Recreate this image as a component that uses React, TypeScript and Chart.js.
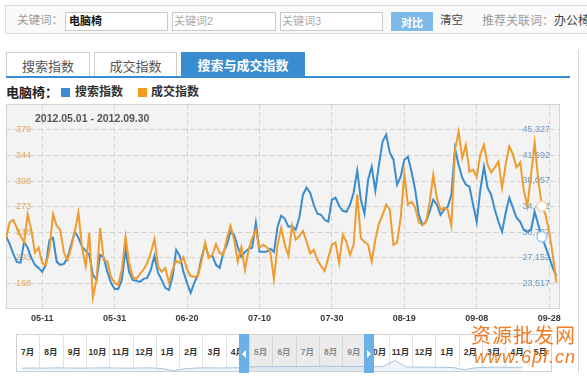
import React, { useEffect, useRef } from 'react';
import { Chart, registerables } from 'chart.js';

Chart.register(...registerables);

// ---------------- data ----------------
const dateRange = '2012.05.01 - 2012.09.30';
const xTickDays = [10, 30, 50, 70, 90, 110, 130, 150];
const xTickLabels = ['05-11', '05-31', '06-20', '07-10', '07-30', '08-19', '09-08', '09-28'];
const tradeTicks = [168, 203, 238, 273, 308, 344, 379];
const searchTicks = [23517, 27152, 30787, 34422, 38057, 41692, 45327];

// 成交指数 (left axis), daily 2012-05-01 .. 2012-09-30
const tradeIndex = [
  230, 252, 255, 244, 233, 225, 263, 241, 210, 217,
  196, 193, 214, 263, 247, 241, 210, 200, 217, 239,
  265, 217, 192, 237, 149, 173, 244, 200, 198, 177,
  169, 166, 187, 232, 196, 177, 174, 181, 187, 196,
  210, 229, 191, 184, 189, 169, 187, 199, 196, 204,
  187, 178, 177, 178, 198, 224, 203, 207, 222, 210,
  207, 230, 247, 228, 198, 218, 187, 214, 230, 241,
  217, 221, 218, 211, 174, 221, 244, 221, 206, 247,
  228, 233, 240, 226, 209, 214, 200, 192, 185, 203,
  221, 224, 196, 235, 225, 207, 221, 290, 230, 225,
  221, 198, 228, 250, 262, 276, 269, 221, 224, 258,
  318, 276, 280, 272, 252, 248, 252, 279, 317, 285,
  269, 272, 269, 247, 351, 376, 340, 358, 321, 324,
  314, 345, 358, 331, 320, 327, 335, 299, 331, 356,
  345, 327, 334, 296, 274, 317, 361, 310, 274, 262,
  239, 207, 169,
];

// 搜索指数 (right axis)
const searchIndex = [
  30264, 29128, 27707, 26570, 26428, 29412, 28559, 27138, 26143, 25717,
  25149, 26143, 29696, 29980, 26570, 26143, 26286, 27138, 28985, 30833,
  29980, 28701, 28133, 27564, 24722, 24012, 27564, 27138, 25149, 23586,
  22733, 22733, 24012, 28275, 25149, 24012, 23870, 23728, 24154, 24296,
  25433, 27422, 25007, 24012, 22875, 22591, 24438, 28275, 27422, 25149,
  23586, 22165, 23586, 24722, 27138, 28985, 27280, 27422, 26143, 25717,
  27849, 28985, 30833, 30406, 28701, 27280, 27991, 28417, 28559, 32112,
  27991, 27991, 27991, 28417, 27991, 31543, 33106, 32680, 31543, 31685,
  31117, 32822, 36090, 37085, 36375, 34669, 33391, 33248, 32538, 32254,
  35380, 35664, 34527, 33817, 33675, 34669, 36375, 39501, 35380, 33391,
  38222, 40069, 36659, 40353, 43622, 44616, 42059, 41064, 37511, 38648,
  41064, 41490, 39359, 36801, 33248, 31827, 32254, 33675, 35380, 34669,
  33248, 33959, 34385, 36090, 42627, 40353, 38506, 37511, 37227, 34669,
  32254, 36801, 40069, 37085, 36090, 33959, 32254, 30833, 33533, 35664,
  34243, 32822, 32254, 31117, 30833, 31117, 33675, 31827, 30122, 28701,
  27280, 25717, 24580,
];
const hoverDay = 148;

const navMonths = ['7月', '8月', '9月', '10月', '11月', '12月', '1月', '2月', '3月', '4月', '5月', '6月',
  '7月', '8月', '9月', '10月', '11月', '12月', '1月', '2月', '3月', '4月', '5月'];
const navSelStart = 10;
const navSelEnd = 15;
// overview sparkline, half-month steps from 2011-07
const navSpark = [
  24, 25, 24, 26, 25, 24, 25, 26, 25, 24,
  25, 26, 22, 8, 20, 25, 26, 25, 26, 27,
  33, 34, 33, 35, 34, 35, 36, 35, 34, 35,
  33, 34, 72, 32, 30, 30, 29, 28, 14, 27,
  29, 30, 29, 30,
];

// ---------------- styles ----------------
const BLUE = '#3a8ccc';
const ORANGE = '#ef9b2d';
const LAT = "'Liberation Sans', Arial, sans-serif";
const MIX = "'Liberation Sans', 'Noto Sans CJK SC', sans-serif";

type TP = { x: number; cy: number; size: number; color: string; bold?: boolean; family?: string; italic?: boolean; spacing?: number; children: React.ReactNode };
const T = ({ x, cy, size, color, bold, family, italic, spacing, children }: TP) => (
  <div style={{ position: 'absolute', left: x, top: cy - 12, height: 24, display: 'flex', alignItems: 'center', fontSize: size, color, fontWeight: bold ? 700 : 400, fontFamily: family || MIX, fontStyle: italic ? 'italic' : 'normal', letterSpacing: spacing || 0, whiteSpace: 'nowrap', lineHeight: 1 }}>{children}</div>
);

const Box = (p: { x: number; y: number; w: number; h: number; style?: React.CSSProperties; children?: React.ReactNode }) => (
  <div style={{ position: 'absolute', left: p.x, top: p.y, width: p.w, height: p.h, boxSizing: 'border-box', ...p.style }}>{p.children}</div>
);

const plotBg = {
  id: 'plotBg',
  beforeDraw(chart: any) {
    const { ctx, chartArea: a } = chart;
    ctx.save();
    ctx.fillStyle = '#f3f3f3';
    ctx.fillRect(a.left, a.top, a.right - a.left, a.bottom - a.top);
    ctx.strokeStyle = '#d4d4d4';
    ctx.lineWidth = 1;
    ctx.strokeRect(a.left + 0.5, a.top + 0.5, a.right - a.left - 1, a.bottom - a.top - 1);
    ctx.restore();
  },
};

export default function App() {
  const mainRef = useRef<HTMLCanvasElement>(null);
  const sparkRef = useRef<HTMLCanvasElement>(null);

  useEffect(() => {
    const tStep = (tradeTicks[tradeTicks.length - 1] - tradeTicks[0]) / (tradeTicks.length - 1);
    const sStep = (searchTicks[searchTicks.length - 1] - searchTicks[0]) / (searchTicks.length - 1);
    const zeroPad = (s: any) => { s.paddingTop = 0; s.paddingBottom = 0; s.paddingLeft = 0; s.paddingRight = 0; };
    const grid = { color: '#d3d3d3', lineWidth: 1, drawTicks: false };
    const main = new Chart(mainRef.current!, {
      type: 'line',
      data: {
        labels: tradeIndex.map((_, i) => i),
        datasets: [
          {
            label: '成交指数', data: tradeIndex, yAxisID: 'yL', borderColor: ORANGE, borderWidth: 2, tension: 0, fill: false,
            pointRadius: tradeIndex.map((_, i) => (i === hoverDay ? 5 : 0)), pointHoverRadius: 0,
            pointBackgroundColor: '#ffffff', pointBorderColor: '#f5d7a8', pointBorderWidth: 1.5,
          },
          {
            label: '搜索指数', data: searchIndex, yAxisID: 'yR', borderColor: BLUE, borderWidth: 2, tension: 0, fill: false,
            pointRadius: searchIndex.map((_, i) => (i === hoverDay ? 5 : 0)), pointHoverRadius: 0,
            pointBackgroundColor: '#ffffff', pointBorderColor: '#a8cbe9', pointBorderWidth: 1.5,
          },
        ],
      },
      options: {
        responsive: false,
        animation: false,
        events: [],
        layout: { padding: { left: 0, right: 10, top: 0, bottom: 0 } },
        plugins: { legend: { display: false }, tooltip: { enabled: false }, title: { display: false } },
        scales: {
          x: {
            type: 'linear', min: 0, max: tradeIndex.length,
            afterBuildTicks: (s: any) => { s.ticks = xTickDays.map((v) => ({ value: v })); },
            afterFit: (s: any) => { zeroPad(s); s.height = 21; },
            grid,
            border: { display: false, dash: [5, 3] },
            ticks: { autoSkip: false, maxRotation: 0, padding: 4, color: '#3a3a3a', font: { family: LAT, size: 9, weight: 'bold' }, callback: (_v: any, i: number) => xTickLabels[i] },
          },
          yL: {
            type: 'linear', position: 'left', min: tradeTicks[0] - tStep, max: tradeTicks[tradeTicks.length - 1] + tStep,
            afterBuildTicks: (s: any) => { s.ticks = tradeTicks.map((v) => ({ value: v })); },
            afterFit: (s: any) => { zeroPad(s); s.width = 0; },
            grid,
            border: { display: false, dash: [5, 3] },
            ticks: { mirror: true, padding: 10, autoSkip: false, color: '#e3a25c', font: { family: LAT, size: 9 }, callback: (_v: any, i: number) => String(tradeTicks[i]) },
          },
          yR: {
            type: 'linear', position: 'right', min: searchTicks[0] - sStep, max: searchTicks[searchTicks.length - 1] + sStep,
            afterBuildTicks: (s: any) => { s.ticks = searchTicks.map((v) => ({ value: v })); },
            afterFit: (s: any) => { zeroPad(s); s.width = 0; },
            grid: { display: false, drawTicks: false },
            border: { display: false },
            ticks: { mirror: true, padding: -10, autoSkip: false, color: '#6b98c6', font: { family: LAT, size: 9 }, callback: (_v: any, i: number) => searchTicks[i].toLocaleString('en-US') },
          },
        },
      } as any,
      plugins: [plotBg],
    });

    const spark = new Chart(sparkRef.current!, {
      type: 'line',
      data: {
        labels: navSpark.map((_, i) => i * 0.5 + 0.25),
        datasets: [{ data: navSpark, borderColor: '#a9c3dc', borderWidth: 1, pointRadius: 0, tension: 0, fill: true, backgroundColor: 'rgba(190,210,232,0.25)' }],
      },
      options: {
        responsive: false, animation: false, events: [],
        layout: { padding: 0 },
        plugins: { legend: { display: false }, tooltip: { enabled: false } },
        scales: { x: { type: 'linear', display: false, min: 0, max: navMonths.length }, y: { display: false, min: 0, max: 100 } },
      } as any,
    });
    return () => { main.destroy(); spark.destroy(); };
  }, []);

  const navLeft = 16;
  const navW = 536;
  const cw = navW / navMonths.length;
  const selL = navLeft + navSelStart * cw;
  const selR = navLeft + navSelEnd * cw;

  return (
    <div style={{ position: 'fixed', left: 0, top: 0, width: 587, height: 379, background: '#fff', overflow: 'hidden' }}>
      {/* search bar */}
      <Box x={5} y={5} w={620} h={29} style={{ border: '1px solid #dcdcdc', background: '#fafafa' }} />
      <T x={17} cy={21} size={11.5} color="#9a9a9a">关键词：</T>
      <Box x={65} y={12} w={103} h={19} style={{ border: '1px solid #c9c9c9', background: '#fff' }} />
      <T x={69} cy={21.5} size={11} color="#111" bold>电脑椅</T>
      <Box x={172} y={12} w={104} h={19} style={{ border: '1px solid #c9c9c9', background: '#fff' }} />
      <T x={174} cy={21.5} size={11} color="#aaa">关键词2</T>
      <Box x={280} y={12} w={103} h={19} style={{ border: '1px solid #c9c9c9', background: '#fff' }} />
      <T x={282} cy={21.5} size={11} color="#aaa">关键词3</T>
      <Box x={391} y={12} w={42} h={19} style={{ background: '#7dbce9', color: '#fff', fontWeight: 700, fontSize: 11, fontFamily: MIX, display: 'flex', alignItems: 'center', justifyContent: 'center' }}>对比</Box>
      <T x={440} cy={21} size={11.5} color="#444">清空</T>
      <T x={482} cy={21} size={12} color="#9a9a9a">推荐关联词：<span style={{ color: '#444' }}>办公椅</span></T>

      {/* tabs */}
      <Box x={6} y={52} w={84} h={25} style={{ border: '1px solid #cfcfcf', borderBottom: 'none', background: '#fff', display: 'flex', alignItems: 'center', justifyContent: 'center', fontSize: 13, color: '#555', fontFamily: MIX }}>搜索指数</Box>
      <Box x={94} y={52} w={83} h={25} style={{ border: '1px solid #cfcfcf', borderBottom: 'none', background: '#fff', display: 'flex', alignItems: 'center', justifyContent: 'center', fontSize: 13, color: '#555', fontFamily: MIX }}>成交指数</Box>
      <Box x={181} y={52} w={124} h={25} style={{ background: '#3a8cd0', display: 'flex', alignItems: 'center', justifyContent: 'center', fontSize: 13, fontWeight: 700, color: '#fff', fontFamily: MIX }}>搜索与成交指数</Box>
      <Box x={6} y={76} w={564} h={2} style={{ background: '#3a8cd0' }} />
      <Box x={578} y={50} w={1} h={323} style={{ background: '#d4d4d4' }} />

      {/* legend */}
      <T x={6} cy={92} size={13} color="#222" bold>电脑椅：</T>
      <Box x={61} y={88} w={9} h={9} style={{ background: BLUE }} />
      <T x={75} cy={92} size={12} color="#333" bold>{'搜索指数'}</T>
      <Box x={138} y={88} w={9} h={9} style={{ background: '#f39b1e' }} />
      <T x={151} cy={92} size={12} color="#333" bold>{'成交指数'}</T>

      {/* chart */}
      <canvas ref={mainRef} width={564} height={226} style={{ position: 'absolute', left: 6, top: 104, width: 564, height: 226 }} />
      <T x={35} cy={118} size={10.5} color="#555" bold family={LAT}>{dateRange}</T>

      {/* navigator */}
      <Box x={navLeft} y={334} w={navW} h={38} style={{ border: '1px solid #d2d2d2', background: '#fff' }} />
      <Box x={selL} y={335} w={selR - selL} h={36} style={{ background: '#ebebeb' }} />
      {navMonths.map((m, i) => {
        const sel = i >= navSelStart && i < navSelEnd;
        const l = navLeft + i * cw;
        return (
          <React.Fragment key={i}>
            {i > 0 && <Box x={Math.round(l)} y={335} w={1} h={32} style={{ background: sel ? '#d6d6d6' : '#e2e2e2' }} />}
            <div style={{ position: 'absolute', left: l, top: 344, width: cw, height: 14, display: 'flex', alignItems: 'center', justifyContent: 'center', fontSize: 8.5, fontWeight: 700, color: sel ? '#8a8a8a' : '#333', fontFamily: MIX, whiteSpace: 'nowrap' }}>{m}</div>
          </React.Fragment>
        );
      })}
      <canvas ref={sparkRef} width={navW} height={16} style={{ position: 'absolute', left: navLeft, top: 356, width: navW, height: 16 }} />
      <Box x={selL - 10} y={334} w={10} h={39} style={{ background: '#6cb0e6', display: 'flex', alignItems: 'center', justifyContent: 'center' }}>
        <div style={{ width: 0, height: 0, borderTop: '4px solid transparent', borderBottom: '4px solid transparent', borderRight: '4px solid #fff' }} />
      </Box>
      <Box x={selR - 1.5} y={334} w={10} h={39} style={{ background: '#6cb0e6', display: 'flex', alignItems: 'center', justifyContent: 'center' }}>
        <div style={{ width: 0, height: 0, borderTop: '4px solid transparent', borderBottom: '4px solid transparent', borderLeft: '4px solid #fff' }} />
      </Box>

      {/* watermark */}
      <T x={471} cy={336} size={20} color="#f07b22" spacing={1}>资源批发网</T>
      <T x={474} cy={357} size={18} color="#f07b22" italic spacing={1}>www.6pf.cn</T>
    </div>
  );
}
